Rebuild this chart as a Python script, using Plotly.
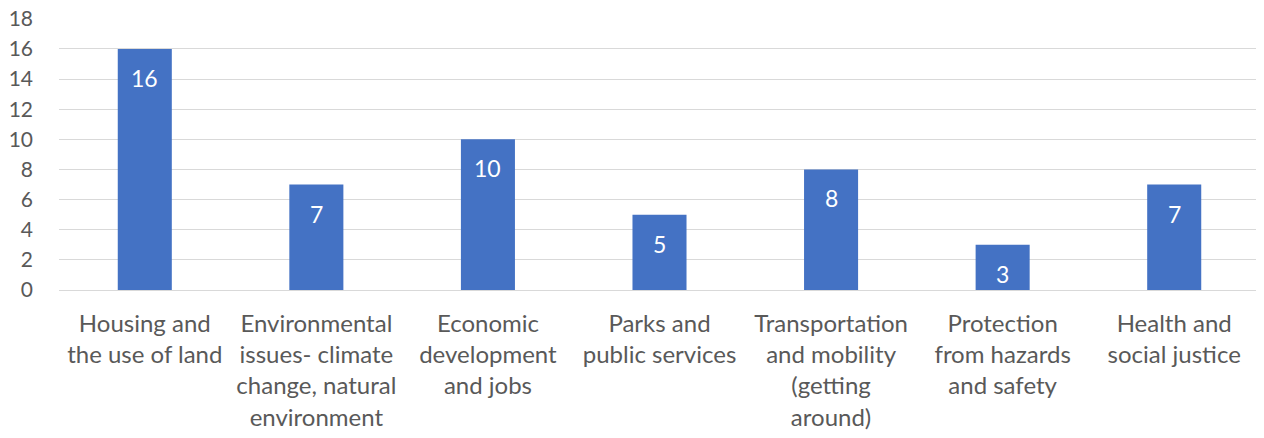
import plotly.graph_objects as go

categories = [
    "Housing and<br>the use of land",
    "Environmental<br>issues- climate<br>change, natural<br>environment",
    "Economic<br>development<br>and jobs",
    "Parks and<br>public services",
    "Transportation<br>and mobility<br>(getting<br>around)",
    "Protection<br>from hazards<br>and safety",
    "Health and<br>social justice",
]
values = [16, 7, 10, 5, 8, 3, 7]
y_ticks = list(range(0, 19, 2))

FONT = "Lato"
TXT = "#595959"

fig = go.Figure()
fig.add_trace(go.Bar(
    x=categories, y=values,
    marker=dict(color="#4472C4", line=dict(width=0)),
    width=0.315,
    hoverinfo="skip",
))

for c, v in zip(categories, values):
    fig.add_annotation(x=c, y=v, text=str(v), showarrow=False,
                       yanchor="middle", yshift=-29,
                       font=dict(family=FONT, size=23, color="white"))

fig.update_layout(
    width=1264, height=438,
    margin=dict(l=51, r=12, t=10, b=156),
    plot_bgcolor="white", paper_bgcolor="white",
    showlegend=False,
    font=dict(family=FONT, size=24, color=TXT),
    xaxis=dict(showgrid=False, showline=False, ticks="", automargin=False,
               ticklabelstandoff=17, tickfont=dict(size=24, color=TXT)),
    yaxis=dict(range=[0, 18.05], tickvals=y_ticks, showgrid=True, gridcolor="#d9d9d9",
               gridwidth=1.3, zeroline=True, zerolinecolor="#d9d9d9", zerolinewidth=1.3,
               ticks="", automargin=False, ticklabelstandoff=25, ticklabeloverflow="allow",
               tickfont=dict(size=21, color=TXT)),
)

fig.write_html("out.html")
